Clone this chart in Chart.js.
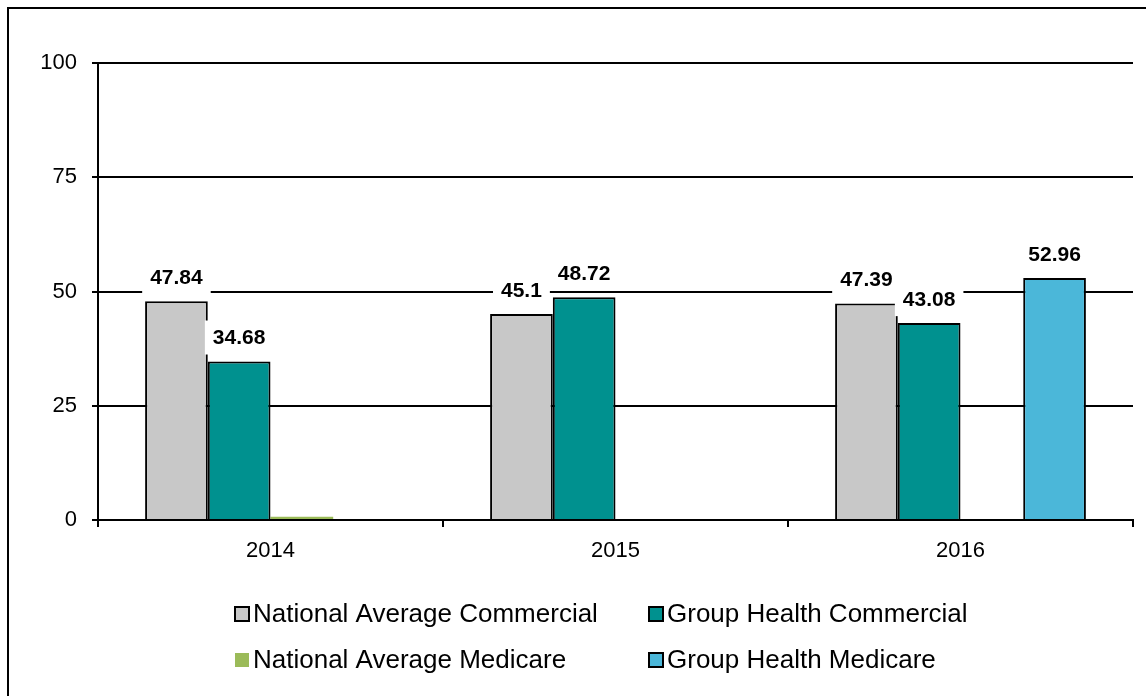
<!DOCTYPE html>
<html><head><meta charset="utf-8">
<script src="https://cdn.jsdelivr.net/npm/chart.js@4"></script>
<style>html,body{margin:0;padding:0;background:#fff}#wrap{width:1146px;height:696px}</style>
</head><body><div id="wrap"><canvas id="c" width="1146" height="696"></canvas></div>
<script>
const categories = ['2014', '2015', '2016'];
const seriesNames = ['National Average Commercial', 'Group Health Commercial', 'National Average Medicare', 'Group Health Medicare'];
const nationalAvgCommercial = [47.84, 45.1, 47.39];
const groupHealthCommercial = [34.68, 48.72, 43.08];
const nationalAvgMedicare = [0.7, null, null];
const groupHealthMedicare = [null, null, 52.96];
const yTicks = [0, 25, 50, 75, 100];

const FONT = '"Liberation Sans", Arial, sans-serif';
const colors = ['#C8C8C8', '#00918F', '#9BBB59', '#4BB7D9'];
const borders = [2, 2, 0, 2];
const seriesData = [nationalAvgCommercial, groupHealthCommercial, nationalAvgMedicare, groupHealthMedicare];

const frame = {
  id: 'frame',
  beforeDraw(chart) {
    const ctx = chart.ctx;
    ctx.save();
    ctx.fillStyle = '#fff';
    ctx.fillRect(0, 0, chart.width, chart.height);
    ctx.strokeStyle = '#000';
    ctx.lineWidth = 2;
    ctx.beginPath();
    ctx.moveTo(8, 696);
    ctx.lineTo(8, 8);
    ctx.lineTo(1146, 8);
    ctx.stroke();
    ctx.restore();
  }
};

const valueLabels = {
  id: 'valueLabels',
  afterDatasetsDraw(chart) {
    const ctx = chart.ctx;
    ctx.save();
    ctx.font = 'bold 21px ' + FONT;
    ctx.textAlign = 'center';
    ctx.textBaseline = 'middle';
    chart.data.datasets.forEach((ds, i) => {
      const meta = chart.getDatasetMeta(i);
      meta.data.forEach((bar, j) => {
        const v = ds.data[j];
        if (v == null || v < 1) return;
        const t = String(v);
        const w = ctx.measureText(t).width;
        const cy = bar.y - 23;
        ctx.fillStyle = '#fff';
        ctx.fillRect(bar.x - w / 2 - 8, cy - 18, w + 16, 34);
        ctx.fillStyle = '#000';
        ctx.fillText(t, bar.x, cy);
      });
    });
    ctx.restore();
  }
};

const customLegend = {
  id: 'customLegend',
  afterDraw(chart) {
    const ctx = chart.ctx;
    ctx.save();
    ctx.font = '26px ' + FONT;
    ctx.textBaseline = 'middle';
    ctx.textAlign = 'left';
    const colX = [235, 649];
    const rowY = [614, 660];
    chart.data.datasets.forEach((ds, i) => {
      const x = colX[i % 2], y = rowY[Math.floor(i / 2)];
      ctx.fillStyle = ds.backgroundColor;
      ctx.fillRect(x, y - 7, 14, 14);
      if (ds.borderWidth > 0) {
        ctx.strokeStyle = '#000';
        ctx.lineWidth = 2;
        ctx.strokeRect(x, y - 7, 14, 14);
      }
      ctx.fillStyle = '#000';
      ctx.fillText(ds.label, x + 18, y + 1);
    });
    ctx.restore();
  }
};

new Chart(document.getElementById('c'), {
  type: 'bar',
  data: {
    labels: categories,
    datasets: seriesNames.map((name, i) => ({
      label: name,
      data: seriesData[i],
      backgroundColor: colors[i],
      borderColor: '#000',
      borderWidth: borders[i],
      categoryPercentage: 0.727,
      barPercentage: 1.0
    }))
  },
  options: {
    responsive: false,
    animation: false,
    devicePixelRatio: 1,
    layout: { padding: { left: 0, top: 63, right: 13, bottom: 0 } },
    plugins: { legend: { display: false }, tooltip: { enabled: false } },
    scales: {
      x: {
        offset: true,
        grid: { offset: true, drawOnChartArea: false, drawTicks: true, tickLength: 7, color: '#000', lineWidth: 2 },
        border: { color: '#000', width: 2 },
        ticks: { color: '#000', font: { family: FONT, size: 22 }, padding: 11 },
        afterFit(s) { s.height = 176; }
      },
      y: {
        min: 0, max: 100,
        afterBuildTicks(s) { s.ticks = yTicks.map(v => ({ value: v })); },
        grid: { color: '#000', lineWidth: 2, tickLength: 6 },
        border: { color: '#000', width: 2 },
        ticks: { color: '#000', font: { family: FONT, size: 22 }, padding: 15 },
        afterFit(s) { s.width = 98; }
      }
    }
  },
  plugins: [frame, valueLabels, customLegend]
});
</script>
</body></html>
